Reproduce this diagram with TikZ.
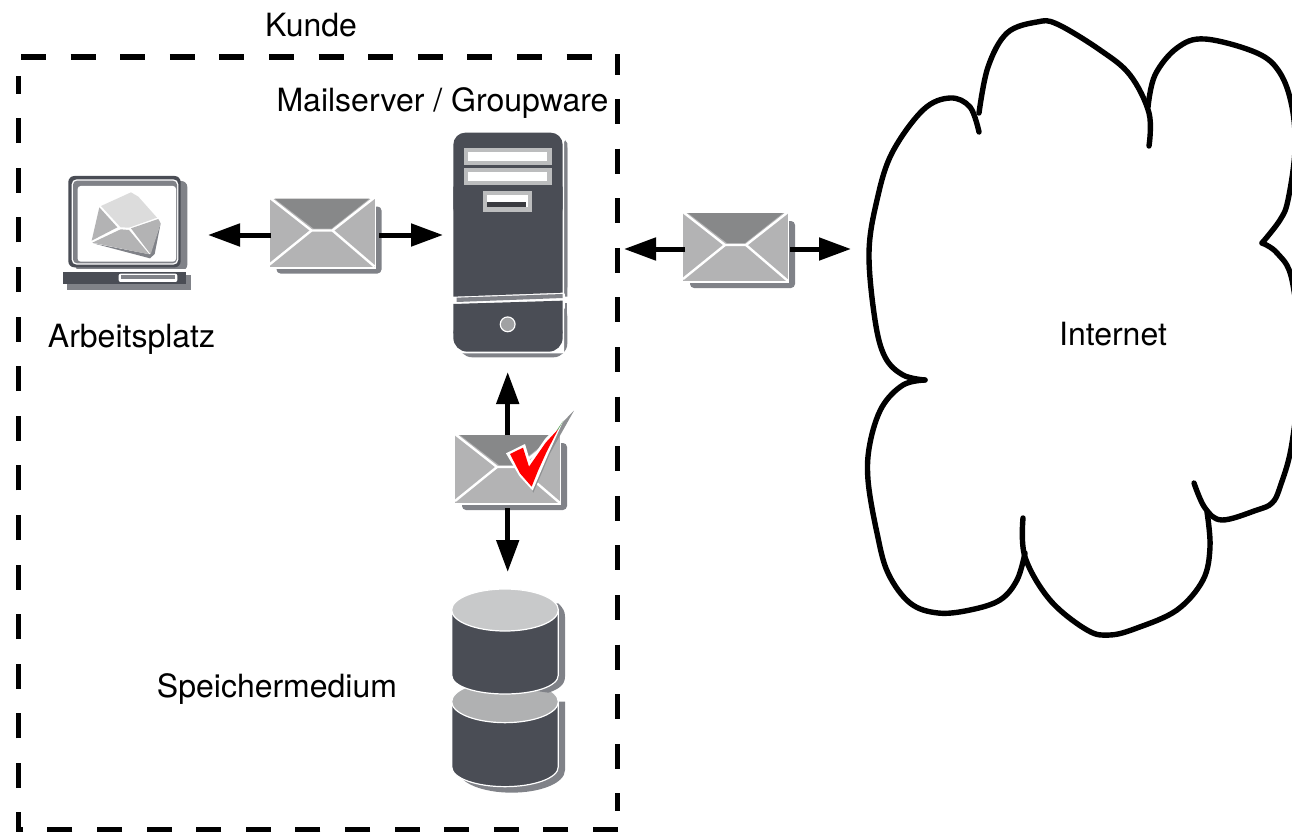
\documentclass[tikz,border=0pt]{standalone}
\usepackage{fontspec}
\setmainfont{TeX Gyre Heros}
\usetikzlibrary{arrows.meta}
\definecolor{darkbody}{HTML}{4A4D55}
\definecolor{shadowgrey}{HTML}{808288}
\definecolor{envgrey}{HTML}{B3B3B4}
\definecolor{flapgrey}{HTML}{878889}
\definecolor{topgrey}{HTML}{C8C9CA}
\definecolor{midgrey}{HTML}{B0B1B2}
\definecolor{lightflap}{HTML}{DCDCDC}
\definecolor{buttongrey}{HTML}{A0A1A3}
\definecolor{bayline}{HTML}{3A3B40}
\definecolor{checkgrey}{HTML}{8E9092}
\definecolor{checkgreen}{HTML}{5FA55F}
\tikzset{
  label text/.style={font=\fontsize{32}{38}\selectfont, text=black, inner sep=0pt},
  port/.style={inner sep=0pt, outer sep=0pt, draw=none, fill=none},
  bothtip/.style={line width=5pt, -{Triangle[length=32pt,width=22pt]}},
  frame line/.style={line width=5.6pt, line cap=butt},
  frame dash/.style={frame line, dash pattern=on 25pt off 24.6pt},
  cloud line/.style={line width=5.4pt, line cap=round, line join=round},
  mailenv/.pic={
    \fill[shadowgrey, rounded corners=4pt] (7,8) rectangle (112,75);
    \fill[white] (0,0) rectangle (106,70);
    \fill[envgrey] (0,0) rectangle (105,68);
    \fill[flapgrey] (5,0) -- (100,0) -- (62,30) -- (44,30) -- cycle;
    \draw[white, line width=2.4pt] (0,-1) -- (42,32) -- (63,32) -- (105,-1);
    \draw[white, line width=2.4pt] (42,32) -- (0,66);
    \draw[white, line width=2.4pt] (63,32) -- (105,68);
  }
}
\begin{document}
\begin{tikzpicture}[x=1pt,y=-1pt]
\useasboundingbox (0,0) rectangle (1292,832);

% laptop
\begin{scope}[shift={(30,120)},scale=1/3]
  \fill[shadowgrey, rounded corners=6pt] (135,183) rectangle (472,452);
  \fill[white] (110,448) rectangle (470,456);
  \fill[shadowgrey] (110,465) rectangle (484,510);
  \fill[darkbody, rounded corners=6pt] (115,168) rectangle (452,442);
  \fill[white, rounded corners=5pt] (125,178) rectangle (445,434);
  \fill[shadowgrey, rounded corners=4pt] (129,182) rectangle (441,430);
  \fill[white, rounded corners=3pt] (143,198) rectangle (438,425);
  \fill[darkbody] (100,455) rectangle (468,492);
  \fill[white, rounded corners=2pt] (266,461) rectangle (442,486);
  \fill[shadowgrey] (272,466) rectangle (436,476);
  % tilted envelope
  \fill[shadowgrey] (190,370) -- (360,415) -- (374,402) -- (392,310) -- (360,403) -- cycle;
  \fill[lightflap] (213,258) -- (303,217) -- (325,230) -- (381,293) -- (297,323) -- (272,322) -- cycle;
  \fill[envgrey] (208,262) -- (262,322) -- (185,362) -- cycle;
  \fill[envgrey] (187,368) -- (272,328) -- (297,330) -- (358,403) -- cycle;
  \fill[envgrey] (303,325) -- (385,297) -- (392,310) -- (362,403) -- cycle;
\end{scope}

% server
\begin{scope}[shift={(430,120)},scale=1/3]
  \fill[shadowgrey, rounded corners=10pt] (100,55) rectangle (412,530);
  \fill[white] (110,45) -- (402,45) -- (402,538) -- (80,538) -- cycle;
  \fill[shadowgrey] (405,60) -- (412,70) -- (412,530) -- (405,530) -- cycle;
  \fill[shadowgrey] (80,533) -- (398,522) -- (398,534) -- (80,546) -- cycle;
  \fill[shadowgrey, rounded corners=14pt] (85,550) -- (412,548) -- (412,712) -- (85,712) -- cycle;
  \fill[white] (70,551) -- (402,548) -- (402,700) -- (70,700) -- cycle;
  \fill[shadowgrey] (405,548) -- (412,548) -- (412,660) -- (405,660) -- cycle;
  \fill[darkbody, rounded corners=12pt] (70,38) -- (398,38) -- (398,300) -- (70,300) -- cycle;
  \fill[darkbody] (70,200) -- (398,200) -- (398,518) -- (70,530) -- cycle;
  \fill[darkbody, rounded corners=14pt] (70,600) -- (398,600) -- (398,695) -- (70,695) -- cycle;
  \fill[darkbody] (70,552) -- (398,542) -- (398,640) -- (70,640) -- cycle;
  \fill[buttongrey!70!white] (103,85) rectangle (365,135);
  \fill[white] (115,97) rectangle (352,123);
  \fill[buttongrey!70!white] (103,145) rectangle (365,195);
  \fill[white] (115,157) rectangle (352,183);
  \fill[buttongrey!70!white] (160,212) rectangle (307,275);
  \fill[white] (172,224) rectangle (295,262);
  \fill[bayline] (172,245) rectangle (288,262);
  \fill[white] (233,613) circle [radius=24];
  \fill[buttongrey] (233,613) circle [radius=20];
\end{scope}

% envelopes
\pic at (269.5,198.5) {mailenv};
\pic at (683,213) {mailenv};
\pic at (455,435) {mailenv};

% check mark
\begin{scope}[shift={(430,370)},scale=1/3]
  \fill[checkgrey] (345,210) -- (432,122) -- (360,250) -- (310,368) -- (300,350) -- cycle;
  \fill[white] (228,250) -- (285,222) -- (300,272) -- (345,207) -- (402,148) -- (356,250) -- (308,362) -- (268,318) -- cycle;
  \fill[red] (240,252) -- (279,233) -- (297,290) -- (347,218) -- (385,177) -- (350,245) -- (325,300) -- (305,350) -- (270,310) -- cycle;
  \fill[checkgreen] (380,181) -- (400,152) -- (385,178) -- cycle;
\end{scope}

% storage
\begin{scope}[shift={(430,570)},scale=1/3]
  \fill[shadowgrey] (90,395) -- (405,395) -- (405,600) .. controls (405,640) and (330,668) .. (245,668) .. controls (160,668) and (85,640) .. (85,600) -- cycle;
  \filldraw[fill=darkbody, draw=white, line width=1.2pt] (65,395) -- (65,590) .. controls (65,625) and (140,650) .. (225,650) .. controls (310,650) and (385,625) .. (385,590) -- (385,395) -- cycle;
  \filldraw[fill=midgrey, draw=white, line width=1.2pt] (225,395) ellipse [x radius=160, y radius=63];
  \fill[shadowgrey] (90,110) -- (385,100) .. controls (400,115) and (405,125) .. (405,140) -- (405,320) .. controls (405,345) and (385,358) .. (355,368) -- (90,330) -- cycle;
  \filldraw[fill=darkbody, draw=white, line width=1.2pt] (65,120) -- (65,315) .. controls (65,350) and (140,372) .. (225,372) .. controls (310,372) and (385,350) .. (385,315) -- (385,120) -- cycle;
  \filldraw[fill=topgrey, draw=white, line width=1.2pt] (225,120) ellipse [x radius=160, y radius=63];
\end{scope}

% invisible nodes carrying the connector ends
\node[port, minimum width=168pt, minimum height=140pt] (laptop) at (124,235) {};
\node[port, minimum width=108pt, minimum height=68pt] (env1) at (325,235) {};
\node[port, minimum width=127pt, minimum height=254pt] (server) at (506.5,245) {};
\node[port, minimum width=105pt, minimum height=68pt] (env2) at (737.5,249) {};
\node[port, minimum width=104pt, minimum height=73pt] (env3) at (507.7,471.5) {};
\node[port, minimum width=127pt, minimum height=236pt] (storage) at (507.7,690) {};
\coordinate (frameport) at (624,249);
\coordinate (cloudport) at (851,249);

% connectors
\draw[bothtip] (env1.west) -- (laptop.east);
\draw[bothtip] (env1.east) -- (env1.east -| server.west);
\draw[bothtip] (env2.west) -- (frameport);
\draw[bothtip] (env2.east) -- (cloudport);
\draw[bothtip] (env3.north) -- (env3.north |- server.south);
\draw[bothtip] (env3.south) -- (env3.south |- storage.north);

% dashed frame
\draw[frame dash] (21,57) -- (592,57);
\draw[frame line] (615,57) -- (617.5,57) -- (617.5,75);
\draw[frame dash] (617.5,99) -- (617.5,811);
\draw[frame dash] (618,829.5) -- (46,829.5);
\draw[frame line] (23,829.5) -- (18.5,829.5) -- (18.5,812);
\draw[frame dash] (18.5,788) -- (18.5,76);

% cloud
\begin{scope}
\clip (0,0) rectangle (1292,832);
\draw[cloud line] plot[smooth, tension=0.6] coordinates {(925,380) (903,375) (885,357) (875,320) (869,253) (877,200) (892,153) (923,110) (950,98) (970,107) (979,132)};
\draw[cloud line] plot[smooth, tension=0.6] coordinates {(979,113) (988,67) (1007,33) (1037,22) (1057,24) (1100,50) (1130,75) (1149,113) (1149,146)};
\draw[cloud line] plot[smooth, tension=0.6] coordinates {(1148,107) (1155,75) (1177,48) (1205,39) (1257,53) (1280,73) (1292,107) (1295,150) (1288,200) (1280,220) (1262,243)};
\draw[cloud line] plot[smooth, tension=0.6] coordinates {(1262,243) (1277,253) (1292,280) (1300,360) (1292,443) (1280,487) (1272,503) (1257,510) (1222,520) (1205,508) (1194,483)};
\draw[cloud line] plot[smooth, tension=0.6] coordinates {(1207,512) (1210,547) (1203,580) (1177,610) (1137,628) (1110,635) (1087,630) (1050,600) (1025,557) (1023,518)};
\draw[cloud line] plot[smooth, tension=0.6] coordinates {(1025,553) (1017,580) (1000,600) (970,610) (938,613) (910,603) (888,573) (877,533) (868,480) (870,443) (882,407) (903,385) (925,380)};
\end{scope}

% labels
\node[label text] (kunde) at (311,25) {Kunde};
\node[label text] (mailserver) at (442.5,103.5) {Mailserver / Groupware};
\node[label text] (arbeitsplatz) at (131.5,339.5) {Arbeitsplatz};
\node[label text] (speicher) at (277,689.5) {Speichermedium};
\node[label text] (internet) at (1113,334) {Internet};
\end{tikzpicture}
\end{document}
